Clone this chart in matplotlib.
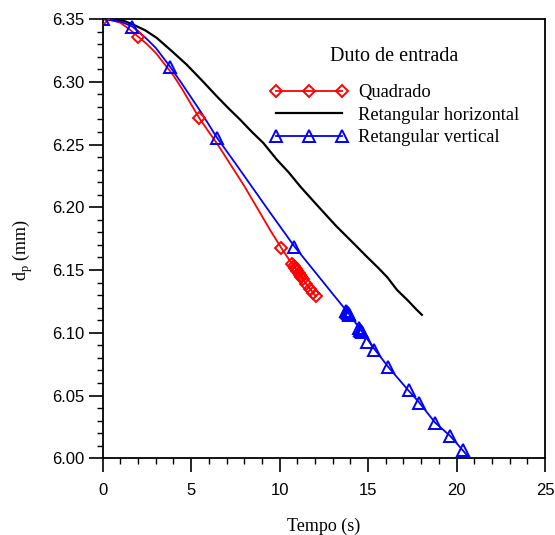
import matplotlib
matplotlib.use("Agg")
import matplotlib.pyplot as plt
from matplotlib.ticker import MultipleLocator, FormatStrFormatter

# --- Quadrado (square inlet duct) ---
quad_t = [0.0, 0.5, 1.0, 1.5, 2.0, 2.5, 3.0, 3.5, 4.0, 4.5, 5.0, 5.46, 6.0, 6.5,
          7.0, 7.5, 8.0, 8.5, 9.0, 9.5, 10.1, 10.5, 11.0, 11.5, 12.05]
quad_v = [6.350, 6.349, 6.347, 6.342, 6.336, 6.330, 6.323, 6.314, 6.305, 6.294,
          6.282, 6.271, 6.260, 6.250, 6.239, 6.228, 6.217, 6.205, 6.193, 6.181,
          6.1675, 6.159, 6.150, 6.139, 6.129]
quad_mark_t = [0.0, 2.0, 5.46, 10.1, 10.72, 10.8, 10.87, 10.94, 11.01, 11.08,
               11.15, 11.22, 11.3, 11.5, 11.7, 11.88, 12.05]
quad_mark_v = [6.350, 6.336, 6.271, 6.1675, 6.155, 6.1535, 6.152, 6.1505, 6.149,
               6.1475, 6.146, 6.1445, 6.143, 6.139, 6.135, 6.132, 6.129]

# --- Retangular horizontal ---
horz_t = [0.0, 0.6, 1.2, 1.73, 2.4, 3.05, 3.9, 4.75, 5.6, 6.45, 7.1, 7.77, 8.4,
          9.08, 9.84, 10.5, 11.2, 12.29, 13.2, 14.17, 14.9, 15.59, 16.1, 16.63,
          17.3, 17.7, 18.04]
horz_v = [6.350, 6.3497, 6.3485, 6.3455, 6.341, 6.335, 6.3245, 6.3136, 6.3012,
          6.2884, 6.279, 6.2698, 6.2605, 6.2512, 6.238, 6.228, 6.216, 6.199,
          6.185, 6.1714, 6.161, 6.1515, 6.144, 6.1342, 6.125, 6.119, 6.1143]

# --- Retangular vertical ---
vert_t = [0.0, 0.5, 1.0, 1.68, 2.5, 3.0, 3.81, 4.5, 5.5, 6.48, 7.5, 8.5, 9.5,
          10.84, 12.0, 13.0, 13.89, 14.65, 15.36, 16.15, 17.29, 17.85, 18.79,
          19.64, 20.34, 20.55]
vert_v = [6.350, 6.349, 6.348, 6.344, 6.334, 6.327, 6.312, 6.298, 6.277, 6.255,
          6.235, 6.215, 6.195, 6.1687, 6.1485, 6.131, 6.1156, 6.101, 6.087,
          6.0726, 6.0539, 6.0451, 6.0284, 6.0178, 6.0066, 6.003]
vert_mark_t = [0.0, 1.68, 3.81, 6.48, 10.84, 13.75, 13.8, 13.85, 13.9, 13.95,
               14.5, 14.55, 14.6, 14.65, 14.93, 15.35, 16.1, 17.29, 17.85, 18.8,
               19.64, 20.34]
vert_mark_v = [6.350, 6.344, 6.312, 6.255, 6.1687, 6.1172, 6.1163, 6.1155,
               6.1147, 6.1138, 6.1035, 6.1026, 6.1017, 6.1008, 6.093, 6.0864,
               6.0726, 6.0545, 6.0439, 6.0284, 6.0178, 6.0066]

series_labels = ["Quadrado", "Retangular horizontal", "Retangular vertical"]
legend_title = "Duto de entrada"
x_ticks = [0, 5, 10, 15, 20, 25]
y_ticks = [6.00, 6.05, 6.10, 6.15, 6.20, 6.25, 6.30, 6.35]

serif = "Liberation Serif"
sans = "Liberation Sans"

fig = plt.figure(figsize=(5.55, 5.35), dpi=100)
ax = fig.add_axes([0.185, 0.1434, 0.797, 0.8211])

# lines
ax.plot(quad_t, quad_v, color="red", lw=1.3, zorder=3)
ax.plot(quad_mark_t, quad_mark_v, ls="none", marker="D", ms=6.5, mfc="none",
        mec="red", mew=1.4, zorder=4)
ax.plot(horz_t, horz_v, color="black", lw=1.6, zorder=2)
ax.plot(vert_t, vert_v, color="blue", lw=1.3, zorder=3)
ax.plot(vert_mark_t, vert_mark_v, ls="none", marker="^", ms=8, mfc="none",
        mec="blue", mew=1.4, zorder=5)

# legend proxies
h1, = ax.plot([], [], color="red", lw=1.3, marker="D", ms=6.5, mfc="none",
              mec="red", mew=1.4)
h2, = ax.plot([], [], color="black", lw=1.6)
h3, = ax.plot([], [], color="blue", lw=1.3, marker="^", ms=8, mfc="none",
              mec="blue", mew=1.4)
leg = ax.legend([h1, h2, h3], series_labels, frameon=False,
                numpoints=3, handlelength=4.2, handletextpad=0.55,
                labelspacing=0.3, loc="upper left",
                bbox_to_anchor=(0.379, 0.852), borderaxespad=0, borderpad=0,
                prop={"family": serif, "size": 13.3})

# legend heading, centred over the entries
ax.text(0.659, 0.915, legend_title, transform=ax.transAxes, ha="center",
        va="center", fontfamily=serif, fontsize=14.5)

ax.set_xlim(0, 25)
ax.set_ylim(6.0, 6.35)
ax.set_xticks(x_ticks)
ax.set_yticks(y_ticks)
ax.xaxis.set_minor_locator(MultipleLocator(1))
ax.yaxis.set_minor_locator(MultipleLocator(0.01))
ax.yaxis.set_major_formatter(FormatStrFormatter("%.2f"))

for s in ax.spines.values():
    s.set_linewidth(1.3)
ax.tick_params(which="major", direction="out", length=10, width=1.2,
               top=False, right=False)
ax.tick_params(which="minor", direction="out", length=4.5, width=1.0,
               top=False, right=False)
ax.tick_params(axis="x", which="major", pad=8)
ax.tick_params(axis="y", which="major", pad=3)
for lab in ax.get_xticklabels() + ax.get_yticklabels():
    lab.set_fontfamily(sans)
    lab.set_fontsize(12)

ax.set_xlabel("Tempo (s)", fontfamily=serif, fontsize=13)
ax.xaxis.set_label_coords(0.5, -0.135)
ax.set_ylabel(r"d$_\mathregular{p}$ (mm)", fontfamily=serif, fontsize=13)
ax.yaxis.set_label_coords(-0.153, 0.474)

fig.savefig("out.png", dpi=100)
